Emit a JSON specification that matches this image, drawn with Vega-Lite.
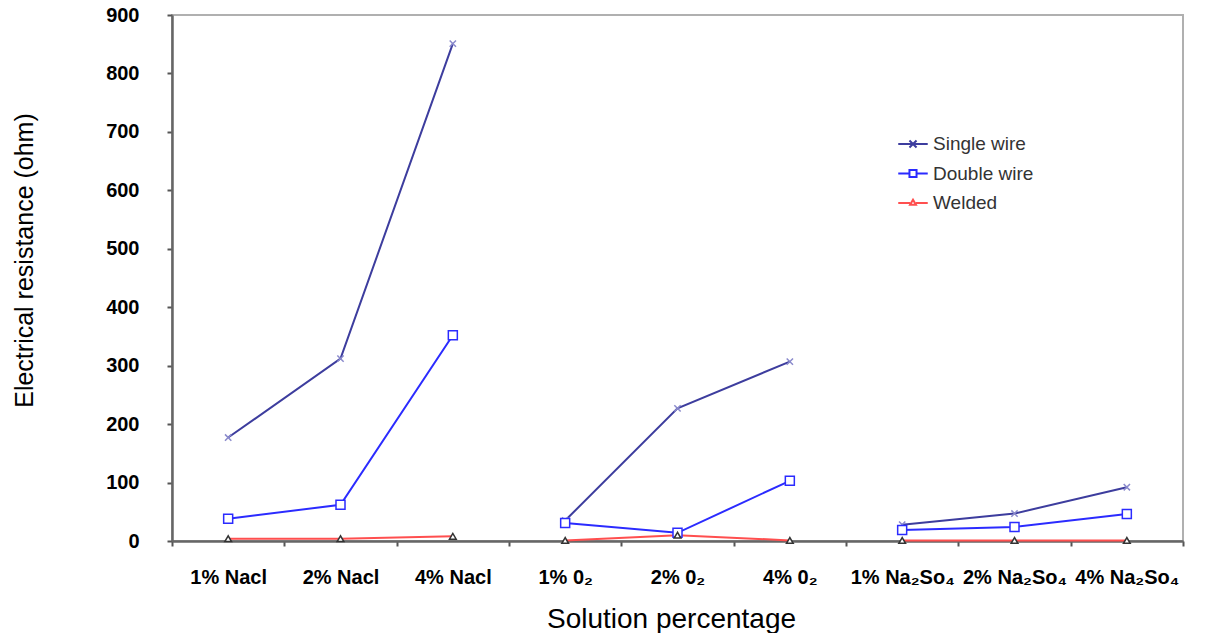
{
  "$schema": "https://vega.github.io/schema/vega-lite/v6.json",
  "width": 1011,
  "height": 526,
  "autosize": {"type": "none"},
  "padding": {"left": 172, "top": 15, "right": 42, "bottom": 92},
  "background": "white",
  "config": {"font": "Liberation Sans", "view": {"stroke": "#b0b0b0", "strokeWidth": 2}},
  "data": {
    "values": [
      {"solution": "1% Nacl", "group": "NaCl", "series": "Single wire", "resistance": 177},
      {"solution": "2% Nacl", "group": "NaCl", "series": "Single wire", "resistance": 312},
      {"solution": "4% Nacl", "group": "NaCl", "series": "Single wire", "resistance": 851},
      {"solution": "1% 0₂", "group": "O2", "series": "Single wire", "resistance": 35},
      {"solution": "2% 0₂", "group": "O2", "series": "Single wire", "resistance": 227},
      {"solution": "4% 0₂", "group": "O2", "series": "Single wire", "resistance": 307},
      {"solution": "1% Na₂So₄", "group": "Na2SO4", "series": "Single wire", "resistance": 28},
      {"solution": "2% Na₂So₄", "group": "Na2SO4", "series": "Single wire", "resistance": 47},
      {"solution": "4% Na₂So₄", "group": "Na2SO4", "series": "Single wire", "resistance": 92},
      {"solution": "1% Nacl", "group": "NaCl", "series": "Double wire", "resistance": 38},
      {"solution": "2% Nacl", "group": "NaCl", "series": "Double wire", "resistance": 62},
      {"solution": "4% Nacl", "group": "NaCl", "series": "Double wire", "resistance": 352},
      {"solution": "1% 0₂", "group": "O2", "series": "Double wire", "resistance": 31},
      {"solution": "2% 0₂", "group": "O2", "series": "Double wire", "resistance": 14},
      {"solution": "4% 0₂", "group": "O2", "series": "Double wire", "resistance": 103},
      {"solution": "1% Na₂So₄", "group": "Na2SO4", "series": "Double wire", "resistance": 19},
      {"solution": "2% Na₂So₄", "group": "Na2SO4", "series": "Double wire", "resistance": 24},
      {"solution": "4% Na₂So₄", "group": "Na2SO4", "series": "Double wire", "resistance": 46},
      {"solution": "1% Nacl", "group": "NaCl", "series": "Welded", "resistance": 4},
      {"solution": "2% Nacl", "group": "NaCl", "series": "Welded", "resistance": 4},
      {"solution": "4% Nacl", "group": "NaCl", "series": "Welded", "resistance": 8},
      {"solution": "1% 0₂", "group": "O2", "series": "Welded", "resistance": 1},
      {"solution": "2% 0₂", "group": "O2", "series": "Welded", "resistance": 10},
      {"solution": "4% 0₂", "group": "O2", "series": "Welded", "resistance": 1},
      {"solution": "1% Na₂So₄", "group": "Na2SO4", "series": "Welded", "resistance": 1},
      {"solution": "2% Na₂So₄", "group": "Na2SO4", "series": "Welded", "resistance": 1},
      {"solution": "4% Na₂So₄", "group": "Na2SO4", "series": "Welded", "resistance": 1}
    ]
  },
  "encoding": {
    "x": {
      "field": "solution",
      "type": "nominal",
      "sort": ["1% Nacl", "2% Nacl", "4% Nacl", "1% 0₂", "2% 0₂", "4% 0₂", "1% Na₂So₄", "2% Na₂So₄", "4% Na₂So₄"],
      "scale": {"paddingInner": 0, "paddingOuter": 0},
      "axis": {
        "title": "Solution percentage",
        "titleFontSize": 28,
        "titleFontWeight": "normal",
        "titleColor": "black",
        "titleBaseline": "alphabetic",
        "titleY": 86,
        "titleX": 499,
        "labelAngle": 0,
        "labelFontSize": 20,
        "labelFontWeight": "bold",
        "labelColor": "black",
        "labelPadding": 21,
        "labelOverlap": false,
        "labelLimit": 0,
        "tickBand": "extent",
        "tickSize": 5,
        "tickColor": "#555555",
        "tickWidth": 2,
        "domainColor": "#666666",
        "domainWidth": 2.5,
        "grid": false
      }
    },
    "y": {
      "field": "resistance",
      "type": "quantitative",
      "scale": {"domain": [0, 900]},
      "axis": {
        "title": "Electrical resistance (ohm)",
        "titleFontSize": 25,
        "titleFontWeight": "normal",
        "titleColor": "black",
        "titleAngle": -90,
        "titleBaseline": "alphabetic",
        "titleAlign": "center",
        "titleX": -140,
        "titleY": 245,
        "values": [0, 100, 200, 300, 400, 500, 600, 700, 800, 900],
        "labelFontSize": 20,
        "labelFontWeight": "bold",
        "labelColor": "black",
        "labelPadding": 28,
        "labelFlush": false,
        "tickSize": 5,
        "tickColor": "#555555",
        "tickWidth": 2,
        "domainColor": "#666666",
        "domainWidth": 2.5,
        "grid": false
      }
    }
  },
  "layer": [
    {
      "mark": {"type": "line", "strokeWidth": 2},
      "encoding": {
        "color": {
          "field": "series",
          "type": "nominal",
          "scale": {"domain": ["Single wire", "Double wire", "Welded"], "range": ["#3d3d9e", "#2b2bff", "#ff4f4f"]},
          "legend": {
            "orient": "none",
            "legendX": 725,
            "legendY": 113,
            "title": null,
            "padding": 0,
            "symbolSize": 870,
            "symbolStrokeWidth": 2,
            "labelFontSize": 19,
            "labelFont": "Liberation Sans",
            "labelColor": "#333333",
            "labelOffset": 4,
            "rowPadding": 3.5,
            "encode": {
              "symbols": {
                "update": {
                  "fill": {"value": "white"},
                  "shape": {"signal": "datum.value === 'Single wire' ? 'M-1,0H1M-0.24,-0.24L0.24,0.24M-0.24,0.24L0.24,-0.24' : datum.value === 'Double wire' ? 'M-1,0H-0.24M0.24,0H1M-0.24,-0.24H0.24V0.24H-0.24Z' : 'M-1,0H-0.2M0.2,0H1M-0.2,0.12L0,-0.22L0.2,0.12Z'"}
                }
              }
            }
          }
        },
        "detail": {"field": "group", "type": "nominal"}
      }
    },
    {
      "transform": [{"filter": "datum.series === 'Single wire'"}],
      "mark": {"type": "point", "shape": "M-1,-1L1,1M-1,1L1,-1", "filled": false, "stroke": "#8a8acc", "strokeWidth": 1.5, "size": 40, "opacity": 1}
    },
    {
      "transform": [{"filter": "datum.series === 'Double wire'"}],
      "mark": {"type": "point", "shape": "square", "filled": false, "fill": "white", "fillOpacity": 1, "stroke": "#2b2bff", "strokeWidth": 1.5, "size": 81, "opacity": 1}
    },
    {
      "transform": [{"filter": "datum.series === 'Welded'"}],
      "mark": {"type": "point", "shape": "triangle-up", "filled": false, "fill": "white", "fillOpacity": 1, "stroke": "#333333", "strokeWidth": 1.5, "size": 45, "opacity": 1}
    }
  ]
}
